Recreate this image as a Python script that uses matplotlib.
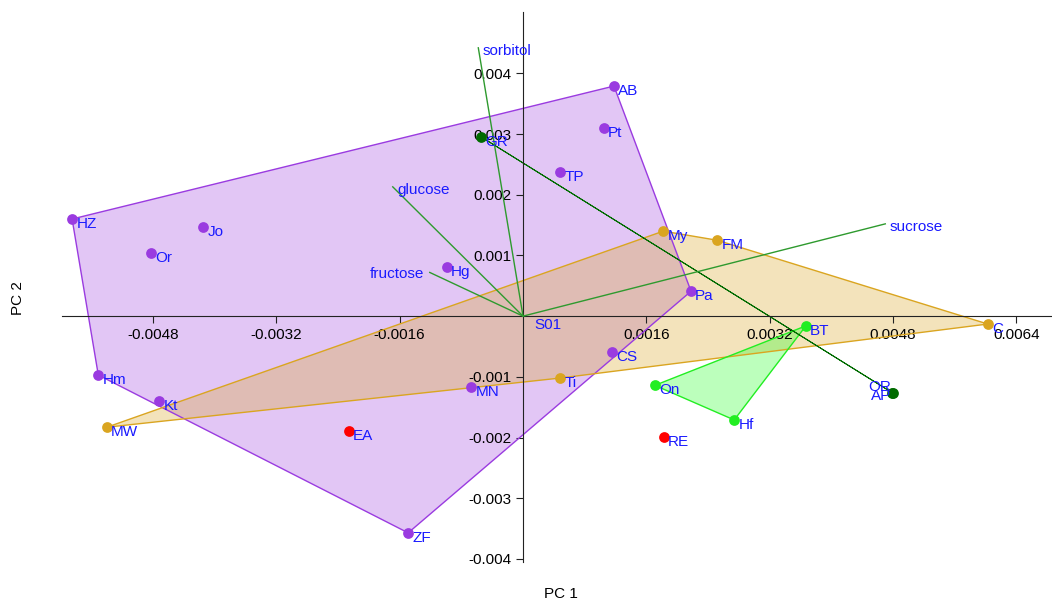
import numpy as np
import matplotlib
matplotlib.use('Agg')
import matplotlib.pyplot as plt

plt.rcParams['font.family'] = ['Liberation Sans', 'DejaVu Sans']

# sample scores (PC1, PC2), grouped
purple_names = ['AB', 'Pt', 'TP', 'HZ', 'Jo', 'Or', 'Hg', 'Pa', 'CS', 'MN', 'Hm', 'Kt', 'ZF']
purple_x = [0.00118, 0.00105, 0.00048, -0.00585, -0.00415, -0.00483, -0.00099, 0.00218, 0.00115, -0.00067, -0.00551, -0.00472, -0.00149]
purple_y = [0.00379, 0.00310, 0.00237, 0.00160, 0.00147, 0.00104, 0.00081, 0.00041, -0.00059, -0.00117, -0.00097, -0.00140, -0.00357]

orange_names = ['My', 'FM', 'C', 'Ti', 'MW']
orange_x = [0.00182, 0.00252, 0.00603, 0.00048, -0.00540]
orange_y = [0.00140, 0.00125, -0.00013, -0.00102, -0.00183]

lime_names = ['BT', 'On', 'Hf']
lime_x = [0.00367, 0.00171, 0.00274]
lime_y = [-0.00016, -0.00114, -0.00171]

red_names = ['EA', 'RE']
red_x = [-0.00226, 0.00183]
red_y = [-0.00189, -0.00199]

dkgreen_names = ['GR', 'OR', 'AP']
dkgreen_x = [-0.00054, 0.00479, 0.00480]
dkgreen_y = [0.00295, -0.00126, -0.00127]

# variable loadings (arrow ends)
var_names = ['sorbitol', 'glucose', 'fructose', 'sucrose']
var_x = [-0.00058, -0.00169, -0.00121, 0.00470]
var_y = [0.00442, 0.00213, 0.00072, 0.00152]

x_ticks = [-0.0048, -0.0032, -0.0016, 0.0016, 0.0032, 0.0048, 0.0064]
y_ticks = [-0.004, -0.003, -0.002, -0.001, 0.001, 0.002, 0.003, 0.004]


def hull(xs, ys):
    pts = sorted(zip(xs, ys))
    def cross(o, a, b):
        return (a[0]-o[0])*(b[1]-o[1]) - (a[1]-o[1])*(b[0]-o[0])
    lower, upper = [], []
    for p in pts:
        while len(lower) >= 2 and cross(lower[-2], lower[-1], p) <= 0:
            lower.pop()
        lower.append(p)
    for p in reversed(pts):
        while len(upper) >= 2 and cross(upper[-2], upper[-1], p) <= 0:
            upper.pop()
        upper.append(p)
    return np.array(lower[:-1] + upper[:-1])


fig = plt.figure(figsize=(10.52, 6.01), dpi=100)
ax = fig.add_axes([62/1052, 39/601, 990/1052, 550/601])
ax.set_xlim(-0.005981, 0.006863)
ax.set_ylim(-0.00405, 0.00501)

groups = [
    (purple_names, purple_x, purple_y, '#9a3be0', '#9933dd', 0.28, 1.0),
    (orange_names, orange_x, orange_y, '#daa520', '#daa520', 0.3, 1.0),
    (lime_names, lime_x, lime_y, '#22ee22', '#22ff22', 0.3, 1.0),
    (red_names, red_x, red_y, '#ff0000', '#ff0000', 0.3, 1.0),
    (dkgreen_names, dkgreen_x, dkgreen_y, '#006b00', '#006b00', 0.3, 0.7),
]

for names, xs, ys, col, fcol, a, lw in groups:
    if len(xs) >= 3:
        h = hull(xs, ys)
        ax.fill(h[:, 0], h[:, 1], facecolor=fcol, alpha=a, edgecolor='none', zorder=1)
        ax.fill(h[:, 0], h[:, 1], facecolor='none', edgecolor=col, lw=lw, zorder=2)

for vx, vy, name in zip(var_x, var_y, var_names):
    ax.plot([0, vx], [0, vy], color='#2e9a2e', lw=1.0, zorder=3)
    if name == 'fructose':
        ax.annotate(name, (vx, vy), xytext=(-4, -1), textcoords='offset points',
                    ha='right', va='center', color='#1a1aff', fontsize=11, zorder=6)
    else:
        ax.annotate(name, (vx, vy), xytext=(3, -2), textcoords='offset points',
                    ha='left', va='center', color='#1a1aff', fontsize=11, zorder=6)

for names, xs, ys, col, fcol, a, lw in groups:
    ax.scatter(xs, ys, s=60, color=col, zorder=4, linewidths=0)
    for n, x, y in zip(names, xs, ys):
        if n in ('OR', 'AP'):
            off = (-1, 4) if n == 'OR' else (-1, -2)
            ax.annotate(n, (x, y), xytext=off, textcoords='offset points',
                        ha='right', va='center', color='#1a1aff', fontsize=11, zorder=6)
        else:
            ax.annotate(n, (x, y), xytext=(3, -3.5), textcoords='offset points',
                        ha='left', va='center', color='#1a1aff', fontsize=11, zorder=6)

ax.annotate('S01', (0, 0), xytext=(8, -6.5), textcoords='offset points',
            ha='left', va='center', color='#1a1aff', fontsize=11, zorder=6)

ax.spines['left'].set_position(('data', 0))
ax.spines['bottom'].set_position(('data', 0))
ax.spines['top'].set_visible(False)
ax.spines['right'].set_visible(False)
ax.spines['left'].set_color('#222222')
ax.spines['bottom'].set_color('#222222')
ax.set_xticks(x_ticks)
ax.set_xticklabels([str(t) for t in x_ticks])
ax.set_yticks(y_ticks)
ax.set_yticklabels([str(t) for t in y_ticks])
ax.tick_params(direction='out', length=5, labelsize=11, colors='#222222', labelcolor='black')
ax.patch.set_visible(False)

fig.text(561/1052, 1 - 594/601, 'PC 1', ha='center', va='center', fontsize=11)
fig.text(18/1052, 1 - 298/601, 'PC 2', ha='center', va='center', rotation=90, fontsize=11)

fig.savefig('out.png', dpi=100)
